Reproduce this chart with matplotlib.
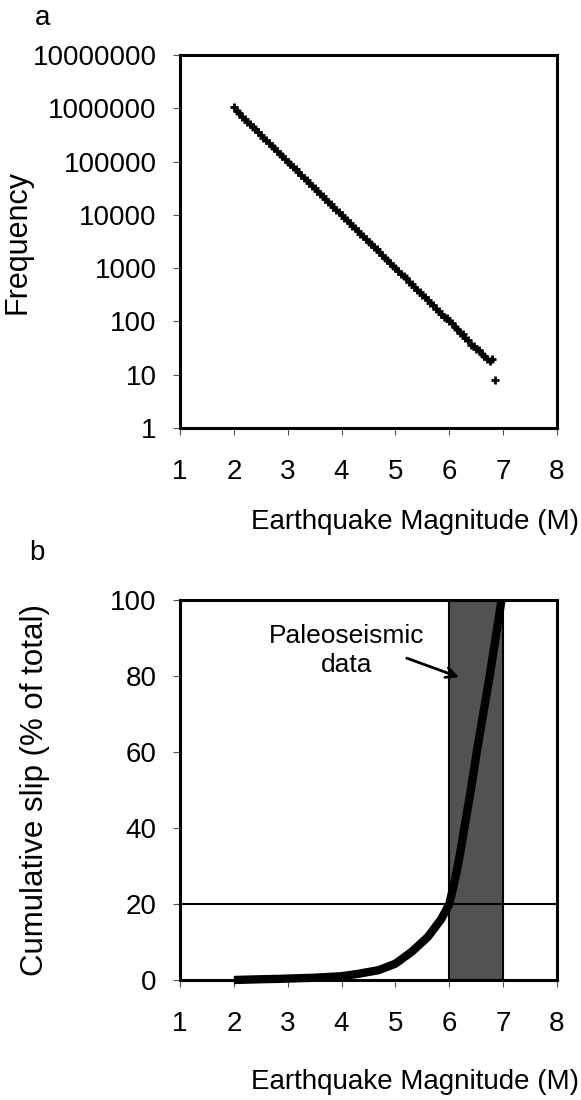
import matplotlib
matplotlib.use('Agg')
import matplotlib.pyplot as plt

plt.rcParams['font.family'] = 'Liberation Sans'

# panel a: frequency-magnitude
mag_a = [2.00, 2.05, 2.10, 2.15, 2.20, 2.25, 2.30, 2.35, 2.40, 2.45,
         2.50, 2.55, 2.60, 2.65, 2.70, 2.75, 2.80, 2.85, 2.90, 2.95,
         3.00, 3.05, 3.10, 3.15, 3.20, 3.25, 3.30, 3.35, 3.40, 3.45,
         3.50, 3.55, 3.60, 3.65, 3.70, 3.75, 3.80, 3.85, 3.90, 3.95,
         4.00, 4.05, 4.10, 4.15, 4.20, 4.25, 4.30, 4.35, 4.40, 4.45,
         4.50, 4.55, 4.60, 4.65, 4.70, 4.75, 4.80, 4.85, 4.90, 4.95,
         5.00, 5.05, 5.10, 5.15, 5.20, 5.25, 5.30, 5.35, 5.40, 5.45,
         5.50, 5.55, 5.60, 5.65, 5.70, 5.75, 5.80, 5.85, 5.90, 5.95,
         6.00, 6.05, 6.10, 6.15, 6.20, 6.25, 6.30, 6.35, 6.40, 6.45,
         6.50, 6.55, 6.60, 6.65, 6.70, 6.75, 6.80, 6.85]
freq_a = [1050000, 900000, 800000, 700000, 630000, 560000, 500000, 445000, 400000, 355000,
          316000, 282000, 250000, 225000, 200000, 178000, 158000, 141000, 126000, 112000,
          100000, 89000, 79000, 71000, 63000, 56000, 50000, 44500, 40000, 35500,
          31500, 28000, 25000, 22500, 20000, 17800, 15900, 14100, 12600, 11200,
          10000, 8900, 7900, 7100, 6300, 5600, 5000, 4450, 4000, 3550,
          3150, 2800, 2500, 2250, 2000, 1800, 1580, 1400, 1270, 1120,
          1000, 900, 790, 700, 640, 560, 500, 450, 390, 360,
          310, 285, 250, 220, 205, 170, 160, 140, 120, 115,
          100, 92, 78, 72, 60, 58, 48, 44, 36, 34,
          30, 29, 24, 22, 20, 18, 20, 8]
ytick_vals = [1, 10, 100, 1000, 10000, 100000, 1000000, 10000000]
ytick_lbls = ['1', '10', '100', '1000', '10000', '100000', '1000000', '10000000']

# panel b: cumulative slip
mag_b = [2.0, 2.5, 2.83, 3.5, 4.0, 4.3, 4.69, 5.0, 5.3, 5.6, 5.85, 6.0,
         6.1, 6.18, 6.28, 6.4, 6.51, 6.63, 6.75, 6.86, 6.97]
slip_b = [0, 0.2, 0.3, 0.6, 1.0, 1.6, 2.6, 4.3, 7.4, 11.3, 16, 20,
          26, 31.6, 40, 50, 60, 70, 80, 90, 100]
paleo_range = [6, 7]
slip_line = 20

W, H = 581, 1100
fig = plt.figure(figsize=(W / 100, H / 100), dpi=100)

def box(ax):
    for s in ax.spines.values():
        s.set_linewidth(2.2)
    ax.tick_params(direction='out', length=5, width=0.8, color='#555555',
                   labelsize=20)
    ax.tick_params(axis='y', pad=12)
    ax.tick_params(axis='x', pad=17)

# ---- a
ax1 = fig.add_axes([180 / W, 1 - 428 / H, 377 / W, 373 / H])
ax1.plot(mag_a, freq_a, '+', color='black', ms=6, mew=2)
ax1.set_yscale('log')
ax1.set_xlim(1, 8)
ax1.set_ylim(1, 10000000)
ax1.set_yticks(ytick_vals)
ax1.set_yticklabels(ytick_lbls)
ax1.minorticks_off()
ax1.set_xticks(range(1, 9))
box(ax1)
ax1.set_ylabel('Frequency', fontsize=22)
ax1.yaxis.set_label_coords(-0.39, 0.5)
fig.text(579 / W, 1 - 522 / H, 'Earthquake Magnitude (M)', fontsize=20,
         ha='right', va='center')
fig.text(43 / W, 1 - 18 / H, 'a', fontsize=20, ha='center', va='center')

# ---- b
ax2 = fig.add_axes([180 / W, 1 - 980 / H, 377 / W, 380 / H])
ax2.axvspan(paleo_range[0], paleo_range[1], facecolor='#525252',
            edgecolor='black', linewidth=1.5, zorder=1)
ax2.axhline(slip_line, color='black', linewidth=1.5, zorder=2)
ax2.plot(mag_b, slip_b, color='black', linewidth=6, solid_capstyle='butt',
         zorder=3, clip_on=False)
ax2.set_xlim(1, 8)
ax2.set_ylim(0, 100)
ax2.set_xticks(range(1, 9))
ax2.set_yticks(range(0, 101, 20))
box(ax2)
ax2.set_ylabel('Cumulative slip (% of total)', fontsize=22.5)
ax2.yaxis.set_label_coords(-0.345, 0.5)
ax2.text(4.09, 86.7, 'Paleoseismic\ndata', fontsize=19, ha='center',
         va='center', linespacing=1.3)
ax2.annotate('', xy=(6.18, 79.7), xytext=(5.21, 84.7),
             arrowprops=dict(arrowstyle='->', color='black', lw=2,
                             shrinkA=0, shrinkB=0, mutation_scale=18))
fig.text(579 / W, 1 - 1082 / H, 'Earthquake Magnitude (M)', fontsize=20,
         ha='right', va='center')
fig.text(37 / W, 1 - 553 / H, 'b', fontsize=20, ha='center', va='center')

plt.savefig('out.png', dpi=100)
